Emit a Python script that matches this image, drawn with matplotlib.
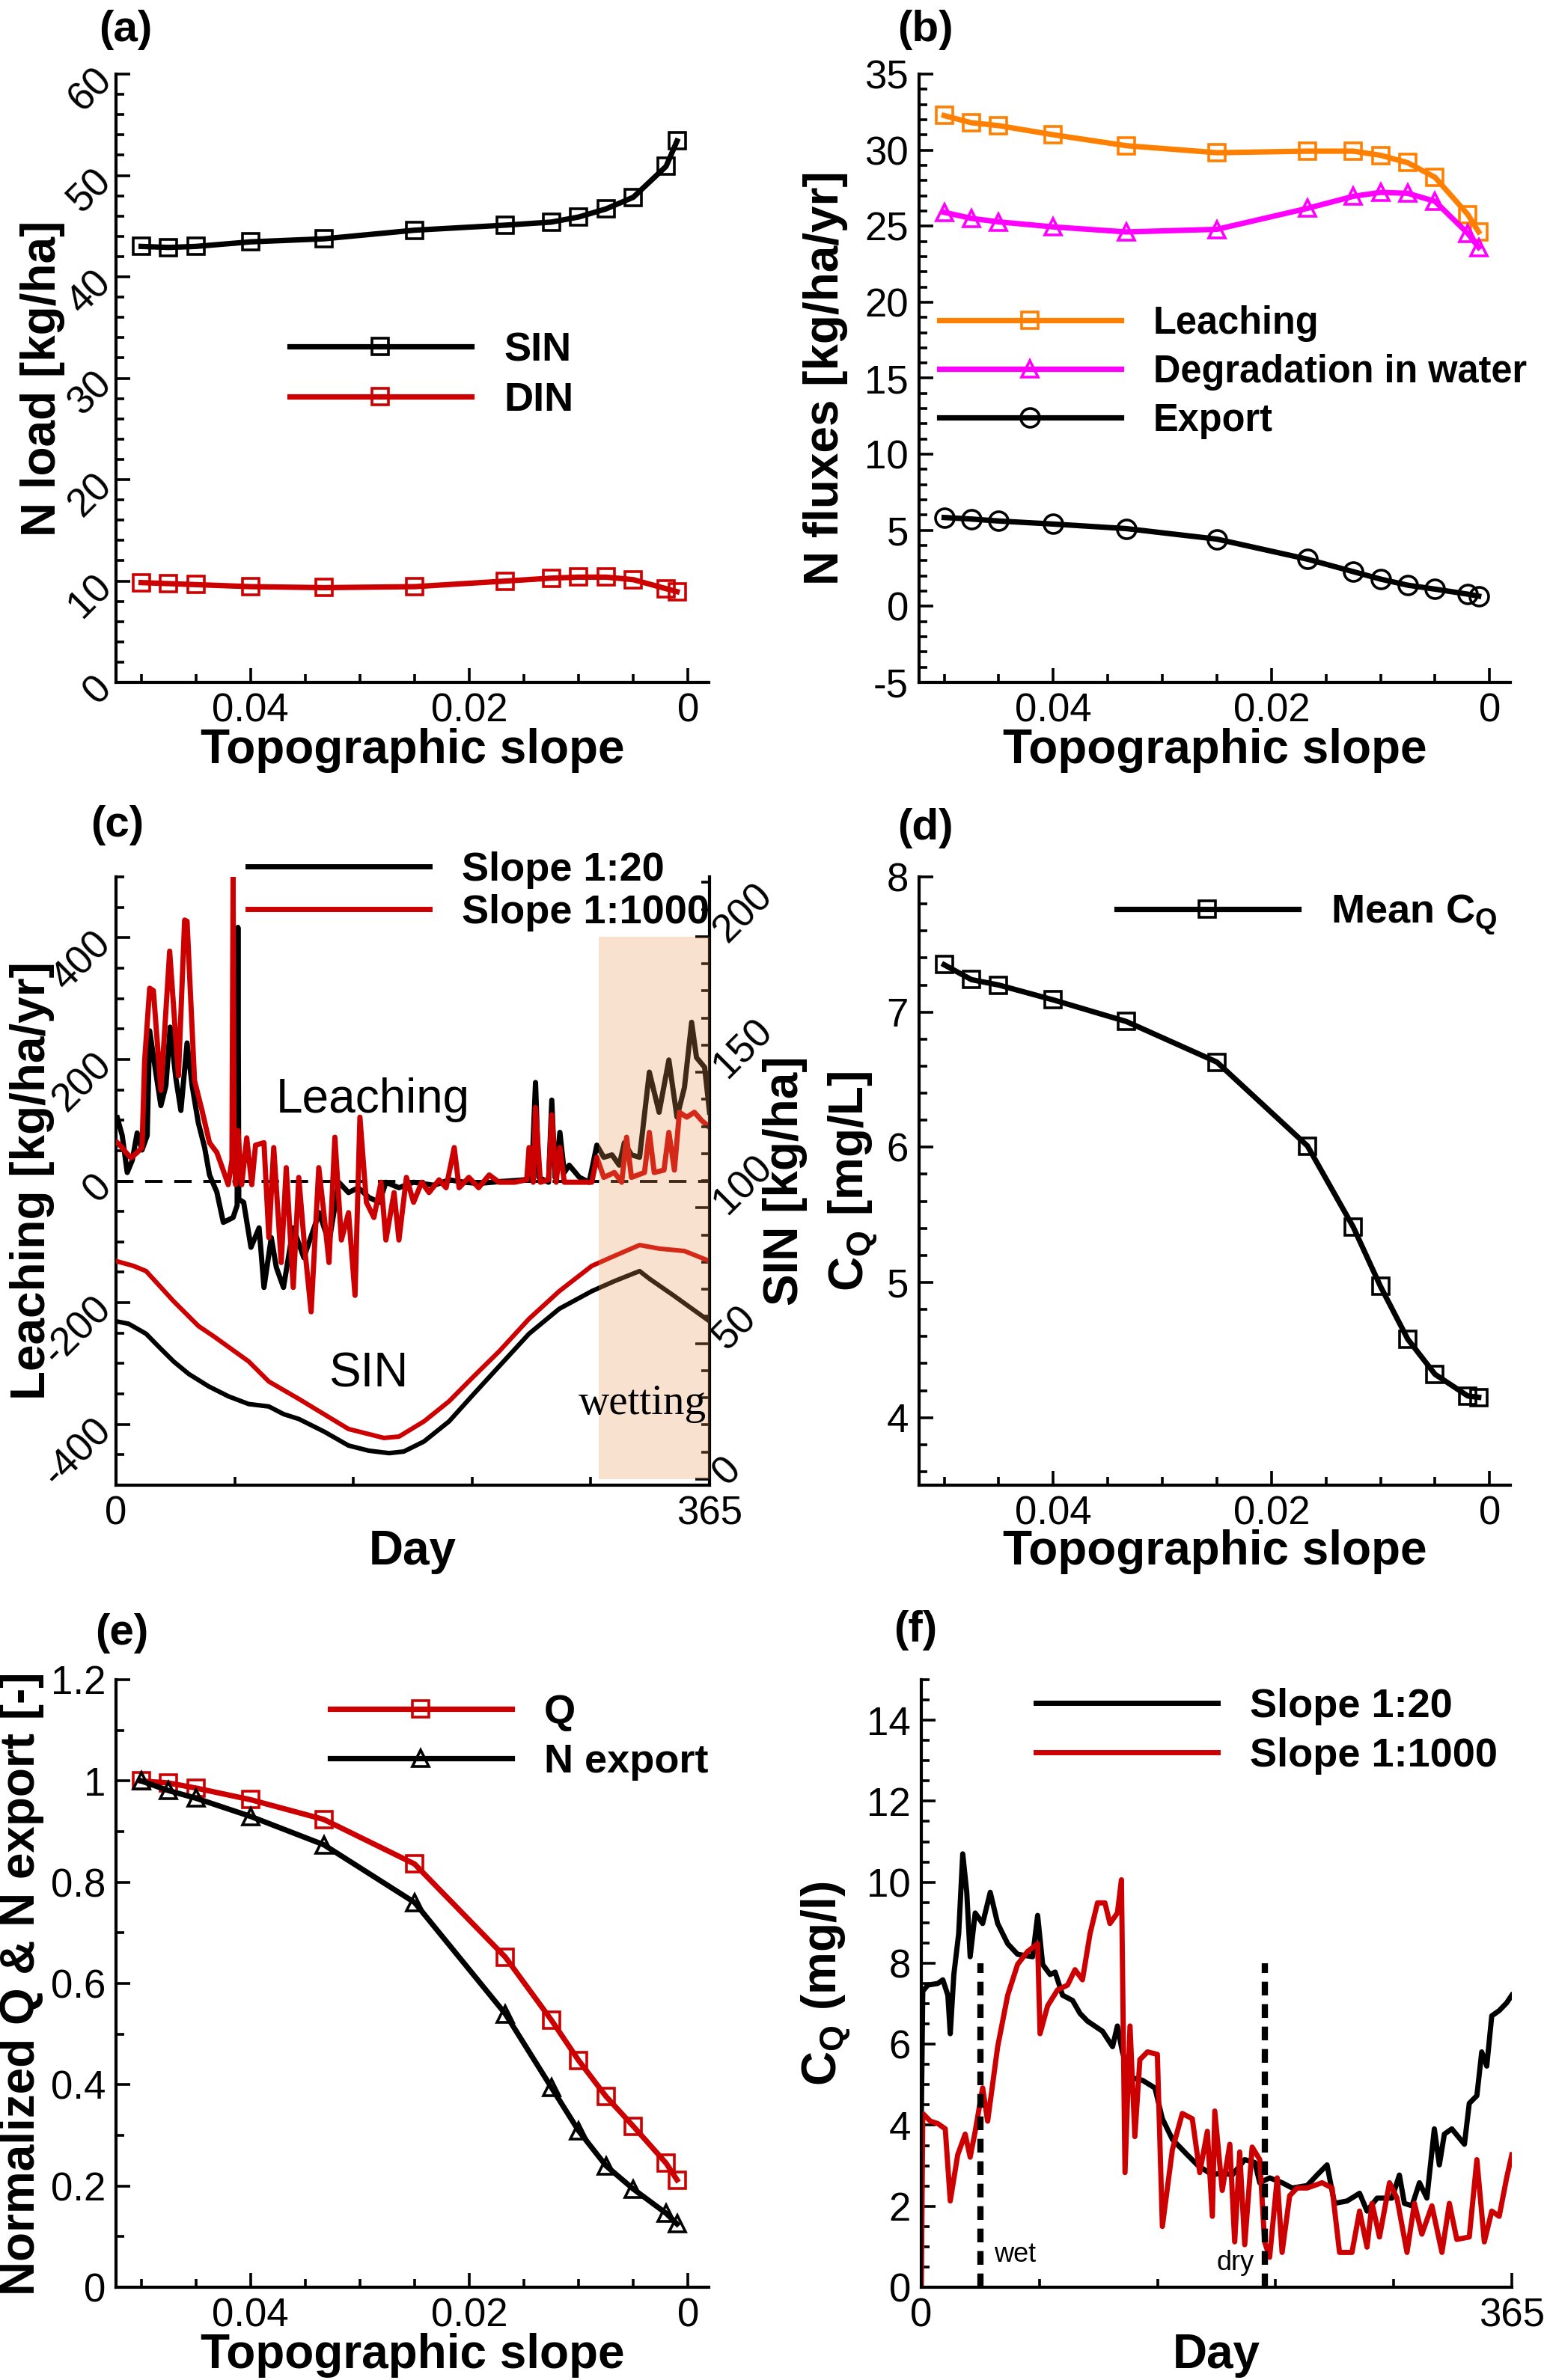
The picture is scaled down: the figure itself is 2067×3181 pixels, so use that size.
import matplotlib
matplotlib.use("Agg")
import matplotlib.pyplot as plt
from matplotlib.ticker import MultipleLocator, FuncFormatter

plt.rcParams['font.family'] = ['Liberation Sans', 'DejaVu Sans']
plt.rcParams['mathtext.fontset'] = 'custom'
plt.rcParams['mathtext.rm'] = 'Liberation Sans'
plt.rcParams['mathtext.bf'] = 'Liberation Sans:bold'
plt.rcParams['axes.unicode_minus'] = False

W, H, DPI = 2067, 3181, 200
RED = '#CC0000'
TICK, LABEL, LEG, PANEL = 19, 23, 19.5, 21

# ---- data ----
slope = [0.05, 0.0475, 0.045, 0.04, 0.0333, 0.025, 0.0167, 0.0125, 0.01, 0.0075, 0.005, 0.002, 0.001]

# (a) N load
sin_load = [43.0, 42.9, 43.0, 43.45, 43.75, 44.6, 45.1, 45.4, 45.9, 46.7, 47.85, 50.9, 53.4]
din_load = [9.84, 9.74, 9.64, 9.44, 9.34, 9.44, 9.99, 10.28, 10.38, 10.38, 10.13, 9.24, 8.95]

# (b) N fluxes
leaching_flux = [32.27, 31.80, 31.61, 31.01, 30.29, 29.83, 29.93, 29.93, 29.66, 29.17, 28.21, 25.77, 24.62]
degradation_flux = [25.91, 25.51, 25.28, 24.95, 24.62, 24.79, 26.17, 26.96, 27.22, 27.16, 26.63, 24.52, 23.60]
export_flux = [5.84, 5.74, 5.61, 5.41, 5.11, 4.42, 3.10, 2.28, 1.79, 1.39, 1.13, 0.80, 0.67]

# (c) daily leaching and SIN
leach20_day = [0.8, 3.8, 6.9, 10, 13, 16, 19.2, 20.7, 24.5, 27.6, 30.7, 33.3, 36.8, 39.9, 43.7, 46.8,
               50.6, 54.5, 57.5, 62, 66, 72, 74.5, 75, 75.5, 78.5, 83, 88, 91, 95.5, 98.6, 103, 109,
               115.5, 125, 131, 137, 143, 149, 155.5, 162, 166, 174, 183, 195.6, 205, 214, 223,
               235.6, 251, 255.6, 258, 260, 266, 268, 270, 273, 275.7, 278.7, 285, 291, 295.7,
               300, 305, 309.5, 312.6, 317, 322, 328, 334, 340, 345, 349.6, 354, 357, 362, 365]
leach20_val = [104, 75, 14, 34, 79, 51, 75, 247, 178, 124, 157, 253, 169, 116, 227, 157,
               96, 55, 10, -18, -68, -60, -40, 417, -30, -35, -109, -77, -175, -93, -142, -175, -77,
               -126, -52, -101, -2, -19, -11, -27, -35, -2, -11, -2, -7, 2, -2, -4,
               -1, 2, 6, 162, 6, -2, 133, 6, 80, 14, 26, 6, -2, 59,
               39, 43, 26, 63, 43, 39, 179, 113, 199, 105, 154, 261, 203, 187, 113]

leach1000_day = [0.8, 3.8, 6.1, 9.2, 13, 16, 17.6, 20.7, 23, 27.6, 33, 38.4, 42.2, 43.7, 48.3,
                 52.9, 57.5, 62, 65.9, 69, 71.3, 72, 72.6, 73.6, 75, 77.3, 80.4, 83.5, 85.8, 91,
                 94, 97, 101.6, 104.7, 109, 112.4, 116, 120, 124.7, 127.8, 131, 134.6, 138.6, 143,
                 147, 150, 154, 158.6, 163, 166, 171, 174, 178.6, 183, 188, 192.5, 198.7, 203,
                 208, 211, 217, 223, 229.5, 235.6, 245, 252.6, 254, 256.6, 258, 261, 266, 268,
                 270.7, 273, 275.7, 285, 292.6, 295.7, 300, 306.5, 311, 314, 317, 325, 328, 331,
                 337, 340, 343.4, 346.5, 351, 355.7, 360, 365]
leach1000_val = [63, 55, 47, 38, 47, 55, 198, 317, 313, 149, 378, 173, 429, 427, 165,
                 116, 63, 47, 18, -6, 34, 500, 60, -6, 83, -6, 71, -6, 59, 63,
                 -93, 55, -134, 22, -175, 6, -109, -215, 22, -52, -134, 72, -97, -52,
                 -188, 105, -35, -60, -2, -97, -19, -97, 6, -35, -2, -19, 2, -11,
                 55, -11, 6, -11, 10, -2, -2, 2, 55, -2, 121, -2, 2, 109,
                 -2, 55, -2, -2, -2, 39, 6, 14, -2, 72, 6, 14, 80, 14,
                 18, 80, 18, 113, 105, 113, 100, 88]

sin20_day = [0, 7.7, 18.5, 26, 35.4, 44.7, 57, 69.3, 81.6, 94, 103, 112.4, 127.8, 143, 155.5,
             168, 177, 189.4, 204.8, 220, 235.6, 254, 272.6, 292.6, 306.5, 322, 328, 343.4, 365]
sin20_val = [58.2, 57.3, 53.6, 49.0, 43.4, 38.8, 34.2, 30.5, 27.7, 26.8, 24.0, 22.2, 17.6, 12.4, 10.5,
             9.6, 10.2, 13.9, 21.3, 31.4, 41.6, 53.6, 62.8, 69.3, 73.0, 76.7, 73.9, 67.5, 58.2]
sin1000_day = [0, 10.8, 18.5, 35.4, 50.8, 60, 81.6, 94, 112.4, 127.8, 143, 164.8, 174, 189.4,
               204.8, 220, 235.6, 254, 272.6, 292.6, 306.5, 322, 334, 349.6, 365]
sin1000_val = [80.4, 78.6, 76.7, 65.6, 56.4, 52.7, 43.4, 36.0, 29.6, 24.0, 18.5, 15.2, 15.7, 21.3,
               28.7, 37.9, 47.1, 59.1, 69.3, 78.6, 82.3, 86.3, 85.0, 84.1, 80.4]
wetting_start = 297

# (d) mean CQ
mean_cq = [7.35, 7.24, 7.20, 7.09, 6.93, 6.63, 6.01, 5.41, 4.97, 4.58, 4.32, 4.16, 4.15]

# (e) normalized Q and N export
q_norm = [1.0, 0.996, 0.986, 0.963, 0.924, 0.836, 0.652, 0.528, 0.448, 0.377, 0.318, 0.245, 0.212]
nexp_norm = [1.0, 0.981, 0.966, 0.930, 0.874, 0.760, 0.540, 0.395, 0.309, 0.240, 0.194, 0.146, 0.125]

# (f) daily CQ
cq20_day = [0, 0.9, 4.0, 10.2, 13.3, 16.4, 17.9, 20.1, 23.1, 25.6, 28.1, 30.2, 33.3, 37.9, 42.6,
            47.2, 53.4, 59.5, 68.8, 71.9, 75.0, 79.6, 82.7, 87.3, 93.5, 98.1, 102.7, 112.0, 118.2,
            121.2, 124.3, 129.0, 136.7, 144.4, 149.0, 155.2, 164.4, 170.6, 179.9, 186.0, 192.2,
            199.9, 206.1, 209.2, 215.3, 223.0, 229.2, 238.5, 244.6, 250.8, 255.4, 263.2, 270.9,
            275.5, 281.7, 290.9, 295.5, 298.6, 303.3, 307.9, 312.5, 317.1, 320.2, 323.3, 327.9,
            335.7, 338.7, 343.4, 346.4, 349.5, 352.6, 357.2, 361.8, 365]
cq20_val = [4.2, 7.31, 7.46, 7.5, 7.59, 7.21, 6.26, 7.72, 8.73, 10.7, 9.75, 8.16, 9.24, 8.98, 9.75,
            8.98, 8.48, 8.22, 8.16, 9.18, 7.97, 7.72, 7.78, 7.21, 7.08, 6.76, 6.57, 6.32, 5.94,
            6.45, 5.81, 5.18, 5.11, 4.92, 4.16, 3.65, 3.27, 3.02, 2.77, 2.83, 2.77,
            3.15, 3.08, 2.58, 2.70, 2.58, 2.45, 2.51, 2.77, 3.02, 2.07, 2.13, 2.32,
            1.88, 2.20, 2.20, 2.77, 2.07, 2.01, 2.58, 2.20, 3.91, 3.02, 3.78, 3.91,
            3.53, 4.54, 4.73, 5.81, 5.46, 6.70, 6.83, 7.02, 7.21]
cq1000_day = [0, 0.9, 5.6, 10.2, 14.8, 17.9, 22.5, 27.1, 30.2, 33.3, 37.9, 41.0, 47.2, 53.4, 59.5,
              65.7, 71.9, 73.4, 78.1, 84.2, 90.4, 95.0, 99.6, 104.3, 108.9, 113.5, 116.6, 121.2,
              123.7, 125.9, 129.0, 132.0, 135.1, 139.8, 145.9, 149.0, 155.2, 161.3, 167.5, 172.1,
              176.8, 179.9, 181.4, 186.0, 190.7, 193.7, 196.8, 199.9, 204.5, 209.2, 212.2, 215.3,
              220.0, 223.0, 227.7, 232.3, 238.5, 247.7, 253.9, 258.5, 266.2, 270.9, 275.5, 278.6,
              283.2, 289.4, 294.0, 300.2, 304.8, 309.4, 315.6, 321.8, 326.4, 331.0, 338.7, 343.4,
              348.0, 352.6, 357.2, 361.8, 365]
cq1000_val = [0, 4.29, 4.10, 4.04, 3.91, 2.13, 3.27, 3.78, 3.21, 3.85, 4.92, 4.10, 5.94, 7.21, 7.97,
              8.29, 8.48, 6.26, 6.95, 7.34, 7.46, 7.84, 7.59, 8.73, 9.49, 9.49, 8.98, 9.24,
              10.06, 2.83, 6.45, 3.72, 5.62, 5.81, 5.75, 1.50, 3.40, 4.29, 4.16, 2.83,
              3.85, 1.75, 4.35, 2.39, 3.53, 1.12, 3.34, 1.05, 3.46, 3.15, 1.12, 0.74,
              2.70, 0.86, 2.26, 2.45, 2.45, 2.58, 2.45, 0.86, 0.86, 1.88, 0.99, 2.07,
              1.24, 2.58, 2.20, 0.86, 2.07, 1.31, 2.01, 0.86, 2.07, 1.18, 1.24, 3.15,
              1.12, 1.88, 1.75, 2.70, 3.27]
wet_day, dry_day, marker_top = 36.4, 212.3, 8


fig = plt.figure(figsize=(W / DPI, H / DPI), dpi=DPI)
gfmt = FuncFormatter(lambda v, p: f"{v:g}")


def make_axes(left, top, right, bottom):
    ax = fig.add_axes([left / W, 1 - bottom / H, (right - left) / W, (bottom - top) / H])
    for s in ("top", "right"):
        ax.spines[s].set_visible(False)
    for s in ("left", "bottom"):
        ax.spines[s].set_linewidth(1.5)
    ax.tick_params(which="both", direction="in", labelsize=TICK, width=1.3, pad=5)
    ax.tick_params(which="major", length=7)
    ax.tick_params(which="minor", length=4)
    return ax


def slope_xaxis(ax):
    ax.set_xlim(0.0523, -0.0019)
    ax.xaxis.set_major_locator(MultipleLocator(0.02))
    ax.xaxis.set_minor_locator(MultipleLocator(0.005))
    ax.xaxis.set_major_formatter(gfmt)
    ax.set_xlabel("Topographic slope", fontsize=LABEL, fontweight="bold")


def day_xaxis(ax):
    ax.set_xlim(0, 365)
    ax.set_xticks([0, 365])
    ax.set_xticks([73, 146, 219, 292], minor=True)
    ax.set_xlabel("Day", fontsize=LABEL, fontweight="bold")


def rotate_yticks(ax, side="left"):
    for lab in ax.get_yticklabels():
        lab.set_rotation(45)
        lab.set_rotation_mode("anchor")
        lab.set_va("center")
        lab.set_ha("right" if side == "left" else "left")


def legend(ax, x, y, spacing=0.3, size=LEG):
    ax.legend(loc="center left", bbox_to_anchor=(x, y), frameon=False, borderpad=0,
              borderaxespad=0, handlelength=4.48 * LEG / size, handletextpad=0.8 * LEG / size,
              labelspacing=spacing * LEG / size, numpoints=1,
              prop={"weight": "bold", "size": size})


def panel_label(text, x, y):
    fig.text(x / W, 1 - y / H, text, fontsize=PANEL, fontweight="bold", ha="center", va="center")


line_kw = dict(lw=2.6, ms=8, mew=1.3, mfc="none")

# (a)
ax = make_axes(155, 99, 947, 912)
ax.plot(slope, sin_load, "s-", color="black", label="SIN", **line_kw)
ax.plot(slope, din_load, "s-", color=RED, label="DIN", **line_kw)
slope_xaxis(ax)
ax.set_ylim(0, 60)
ax.yaxis.set_major_locator(MultipleLocator(10))
ax.yaxis.set_minor_locator(MultipleLocator(2))
rotate_yticks(ax)
ax.set_ylabel("N load [kg/ha]", fontsize=LABEL, fontweight="bold")
ax.yaxis.set_label_coords(-0.086, 0.5)
ax.xaxis.set_label_coords(0.5, -0.075)
legend(ax, 0.293, 0.505)
panel_label("(a)", 168, 40)

# (b)
ax = make_axes(1228, 99, 2018, 912)
ax.plot(slope, leaching_flux, "s-", color="#FF8000", label="Leaching", **line_kw)
ax.plot(slope, degradation_flux, "^-", color="#FF00FF", label="Degradation in water", **line_kw)
ax.plot(slope, export_flux, "o-", color="black", label="Export", **dict(line_kw, ms=9))
slope_xaxis(ax)
ax.set_ylim(-5, 35)
ax.yaxis.set_major_locator(MultipleLocator(5))
ax.yaxis.set_minor_locator(MultipleLocator(1))
ax.set_ylabel("N fluxes [kg/ha/yr]", fontsize=LABEL, fontweight="bold")
ax.yaxis.set_label_coords(-0.120, 0.5)
ax.xaxis.set_label_coords(0.5, -0.075)
legend(ax, 0.034, 0.510, size=18.2)
panel_label("(b)", 1236, 40)

# (c)
ax = make_axes(155, 1172, 948, 1985)
ax2 = ax.twinx()
ax.axhline(0, color="black", lw=1.4, ls=(0, (6, 4)), zorder=1)
ax.plot(leach20_day, leach20_val, color="black", lw=2.5, label="Slope 1:20", zorder=2)
ax.plot(leach1000_day, leach1000_val, color=RED, lw=2.5, label="Slope 1:1000", zorder=3)
day_xaxis(ax)
ax.set_ylim(-500, 500)
ax.yaxis.set_major_locator(MultipleLocator(200))
ax.yaxis.set_minor_locator(MultipleLocator(50))
ax.yaxis.set_major_formatter(gfmt)
rotate_yticks(ax)
ax.set_ylabel("Leaching [kg/ha/yr]", fontsize=LABEL, fontweight="bold")
ax.yaxis.set_label_coords(-0.103, 0.5)
ax.xaxis.set_label_coords(0.5, -0.072)
ax.text(158, 133, "Leaching", fontsize=23, ha="center", va="center")
ax.text(155, -317, "SIN", fontsize=23, ha="center", va="center")
legend(ax, 0.222, 0.976, spacing=0.12)

for s in ("top", "left", "bottom"):
    ax2.spines[s].set_visible(False)
ax2.spines["right"].set_linewidth(1.5)
ax2.plot(sin20_day, sin20_val, color="black", lw=2.2, zorder=2)
ax2.plot(sin1000_day, sin1000_val, color=RED, lw=2.2, zorder=2)
ax2.fill_between([wetting_start, 365], 0, 200, color=(0.92, 0.59, 0.35), alpha=0.28, lw=0, zorder=3)
ax2.text(324, -366, "wetting", transform=ax.transData, fontsize=20.5, family="Liberation Serif",
         ha="center", va="center", zorder=4)
ax2.set_ylim(-2.2, 222)
ax2.yaxis.set_major_locator(MultipleLocator(50))
ax2.yaxis.set_minor_locator(MultipleLocator(10))
ax2.tick_params(which="both", direction="in", labelsize=TICK, width=1.3, pad=5)
ax2.tick_params(which="major", length=7)
ax2.tick_params(which="minor", length=4)
rotate_yticks(ax2, side="right")
ax2.set_ylabel("SIN [kg/ha]", fontsize=LABEL, fontweight="bold")
ax2.yaxis.set_label_coords(1.09, 0.5)
panel_label("(c)", 157, 1103)

# (d)
ax = make_axes(1228, 1172, 2018, 1985)
ax.plot(slope, mean_cq, "s-", color="black", label="Mean C$_{\\mathbf{Q}}$", **line_kw)
slope_xaxis(ax)
ax.set_ylim(3.5, 8)
ax.yaxis.set_major_locator(MultipleLocator(1))
ax.yaxis.set_minor_locator(MultipleLocator(0.2))
ax.set_ylabel("C$_{\\mathbf{Q}}$ [mg/L]", fontsize=LABEL, fontweight="bold")
ax.yaxis.set_label_coords(-0.066, 0.5)
ax.xaxis.set_label_coords(0.5, -0.072)
legend(ax, 0.334, 0.937)
panel_label("(d)", 1236, 1107)

# (e)
ax = make_axes(155, 2245, 947, 3057)
ax.plot(slope, q_norm, "s-", color=RED, label="Q", **line_kw)
ax.plot(slope, nexp_norm, "^-", color="black", label="N export", **line_kw)
slope_xaxis(ax)
ax.set_ylim(0, 1.2)
ax.yaxis.set_major_locator(MultipleLocator(0.2))
ax.yaxis.set_minor_locator(MultipleLocator(0.1))
ax.yaxis.set_major_formatter(gfmt)
ax.set_ylabel("Normalized Q & N export [-]", fontsize=LABEL, fontweight="bold")
ax.yaxis.set_label_coords(-0.121, 0.5)
ax.xaxis.set_label_coords(0.5, -0.075)
legend(ax, 0.361, 0.905)
panel_label("(e)", 163, 2183)

# (f)
ax = make_axes(1231, 2245, 2020, 3057)
ax.plot(cq20_day, cq20_val, color="black", lw=2.5, label="Slope 1:20")
ax.plot(cq1000_day, cq1000_val, color=RED, lw=2.5, label="Slope 1:1000")
ax.vlines([wet_day, dry_day], 0, marker_top, color="black", lw=3.0, linestyles=[(0, (2.2, 1.4))])
ax.text(58, 0.8, "wet", fontsize=13, ha="center", va="center")
ax.text(194, 0.6, "dry", fontsize=13, ha="center", va="center")
day_xaxis(ax)
ax.set_ylim(0, 15)
ax.yaxis.set_major_locator(MultipleLocator(2))
ax.yaxis.set_minor_locator(MultipleLocator(0.5))
ax.set_ylabel("C$_{\\mathbf{Q}}$ (mg/l)", fontsize=LABEL, fontweight="bold")
ax.yaxis.set_label_coords(-0.115, 0.5)
ax.xaxis.set_label_coords(0.5, -0.075)
legend(ax, 0.194, 0.915)
panel_label("(f)", 1223, 2179)

fig.savefig("out.png", dpi=DPI)
